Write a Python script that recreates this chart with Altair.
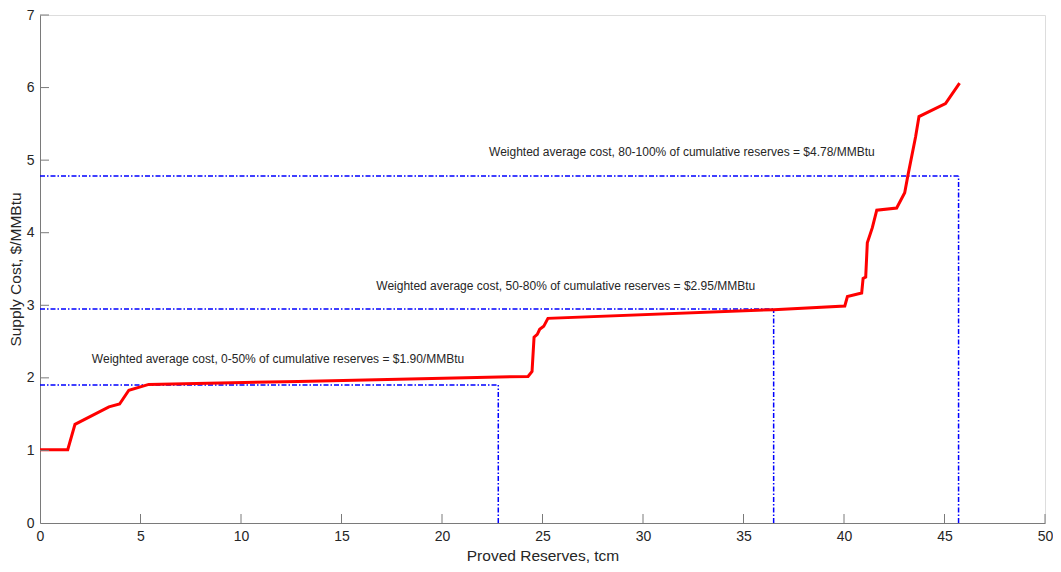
import altair as alt
import pandas as pd

# Supply curve (proved reserves, tcm  vs supply cost, $/MMBtu)
curve_x = [0.0, 1.38, 1.74, 3.43, 3.96, 4.42, 5.41, 12.86, 24.28, 24.48, 24.58, 24.74, 24.86,
           25.06, 25.27, 36.5, 40.04, 40.17, 40.88, 40.95, 41.08, 41.16, 41.41, 41.63, 42.62,
           43.02, 43.18, 43.56, 43.73, 45.05, 45.75]
curve_y = [1.01, 1.01, 1.36, 1.60, 1.64, 1.83, 1.91, 1.95, 2.02, 2.09, 2.56, 2.60, 2.67,
           2.71, 2.82, 2.94, 2.99, 3.12, 3.17, 3.37, 3.39, 3.86, 4.07, 4.31, 4.34,
           4.55, 4.79, 5.32, 5.60, 5.78, 6.06]

# Weighted average cost levels
avg_cost = [1.90, 2.95, 4.78]
avg_reserve_end = [22.8, 36.5, 45.7]
avg_labels = [
    "Weighted average cost, 0-50% of cumulative reserves = $1.90/MMBtu",
    "Weighted average cost, 50-80% of cumulative reserves = $2.95/MMBtu",
    "Weighted average cost, 80-100% of cumulative reserves = $4.78/MMBtu",
]
label_x = [2.58, 16.73, 22.34]
label_y = [2.26, 3.27, 5.11]

x_ticks = [5, 10, 15, 20, 25, 30, 35, 40, 45, 50]
y_ticks = [1, 2, 3, 4, 5, 6, 7]

FONT = "Liberation Sans"
TXT = "#262626"
AX = "#7a7a7a"

curve = pd.DataFrame({"x": curve_x, "y": curve_y})
avg = pd.DataFrame({"cost": avg_cost, "xend": avg_reserve_end, "zero": [0] * 3})
labels = pd.DataFrame({"x": label_x, "y": label_y, "t": avg_labels})

xs = alt.Scale(domain=[0, 50], nice=False)
ys = alt.Scale(domain=[0, 7], nice=False)

xaxis = alt.Axis(values=list(range(0, 51, 5)), title="Proved Reserves, tcm", grid=False, format="d",
                 tickSize=0, labelPadding=6, titlePadding=5, labelFontSize=14, titleFontSize=15.5,
                 labelFont=FONT, titleFont=FONT, labelColor=TXT, titleColor=TXT,
                 titleFontWeight="normal", domainColor=AX, labelFlush=False)
yaxis = alt.Axis(values=list(range(0, 8)), title="Supply Cost, $/MMBtu", grid=False, format="d",
                 tickSize=0, labelPadding=6, titlePadding=3, labelFontSize=14, titleFontSize=15.5,
                 labelFont=FONT, titleFont=FONT, labelColor=TXT, titleColor=TXT,
                 titleFontWeight="normal", domainColor=AX, labelFlush=False)

dash = [5, 2, 1.5, 2]

hrules = alt.Chart(avg).mark_rule(color="#0000ff", strokeWidth=1.5, strokeDash=dash).encode(
    x=alt.X("zero:Q", scale=xs, axis=xaxis), x2="xend:Q",
    y=alt.Y("cost:Q", scale=ys, axis=yaxis))
vrules = alt.Chart(avg).mark_rule(color="#0000ff", strokeWidth=1.5, strokeDash=dash).encode(
    x=alt.X("xend:Q", scale=xs), y=alt.Y("zero:Q", scale=ys), y2="cost:Q")

line = alt.Chart(curve).mark_line(color="#ff0000", strokeWidth=3).encode(
    x=alt.X("x:Q", scale=xs), y=alt.Y("y:Q", scale=ys), order=alt.Order("x:Q"))

text = alt.Chart(labels).mark_text(align="left", baseline="middle", font=FONT, fontSize=12,
                                    color=TXT).encode(
    x=alt.X("x:Q", scale=xs), y=alt.Y("y:Q", scale=ys), text="t:N")

W = 1005
H = 508
# inward ticks
xt = alt.Chart(pd.DataFrame({"v": x_ticks})).mark_rule(color=AX, strokeWidth=1).encode(
    x=alt.X("v:Q", scale=xs), y=alt.value(H), y2=alt.value(H - 9))
yt = alt.Chart(pd.DataFrame({"v": y_ticks})).mark_rule(color=AX, strokeWidth=1).encode(
    y=alt.Y("v:Q", scale=ys), x=alt.value(0), x2=alt.value(9))

chart = alt.layer(hrules, vrules, line, text, xt, yt).properties(
    width=W, height=H,
    autosize=alt.AutoSizeParams(type="none"),
    padding={"left": 32, "top": 7, "right": 8, "bottom": 41},
).configure_view(stroke=None).configure(background="white")

chart.save("out.html", embed_options={"renderer": "svg", "actions": False})
